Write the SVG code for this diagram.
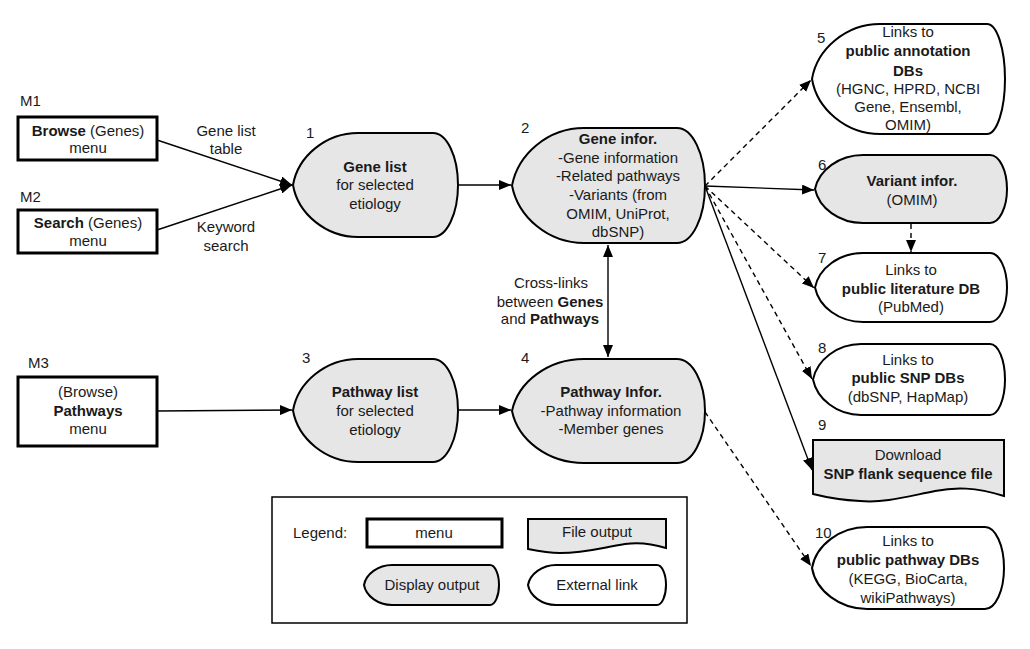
<svg xmlns="http://www.w3.org/2000/svg" width="1030" height="649" viewBox="0 0 1030 649">
<style>
text{font-family:"Liberation Sans",Arial,sans-serif;font-size:15px;fill:#1a1a1a;text-anchor:middle}
.b{font-weight:bold}
.lbl{text-anchor:start}
.menu{fill:#fff;stroke:#000;stroke-width:3}
.disp{fill:#e6e6e6;stroke:#000;stroke-width:2}
.ext{fill:#fff;stroke:#000;stroke-width:2}
.c{fill:none;stroke:#000;stroke-width:1.4}
.d{stroke-dasharray:5,4}
</style>
<defs>
<marker id="ah" viewBox="0 0 12 10" refX="12" refY="5" markerWidth="12" markerHeight="10" markerUnits="userSpaceOnUse" orient="auto-start-reverse">
<path d="M0,0 L12,5 L0,10 Z" fill="#000"/>
</marker>
</defs>
<rect width="1030" height="649" fill="#fff"/>

<g id="connectors">
<line class="c" x1="157" y1="140" x2="292" y2="185" marker-end="url(#ah)"/>
<line class="c" x1="157" y1="230" x2="292" y2="185" marker-end="url(#ah)"/>
<line class="c" x1="157" y1="411" x2="292" y2="410" marker-end="url(#ah)"/>
<line class="c" x1="458" y1="185" x2="511" y2="185" marker-end="url(#ah)"/>
<line class="c" x1="458" y1="410" x2="511" y2="410" marker-end="url(#ah)"/>
<line class="c" x1="608" y1="245" x2="608" y2="357" marker-start="url(#ah)" marker-end="url(#ah)"/>
<line class="c d" x1="705" y1="186" x2="811" y2="80" marker-end="url(#ah)"/>
<line class="c" x1="705" y1="186" x2="814" y2="190" marker-end="url(#ah)"/>
<line class="c d" x1="705" y1="186" x2="814" y2="288" marker-end="url(#ah)"/>
<line class="c d" x1="705" y1="186" x2="812" y2="379" marker-end="url(#ah)"/>
<line class="c" x1="705" y1="186" x2="812" y2="470" marker-end="url(#ah)"/>
<line class="c d" x1="705" y1="412" x2="811" y2="566" marker-end="url(#ah)"/>
<line class="c d" x1="911" y1="224" x2="911" y2="252" marker-end="url(#ah)"/>
<text x="226" y="136">Gene list</text>
<text x="226" y="154">table</text>
<text x="226" y="232">Keyword</text>
<text x="226" y="251">search</text>
<text x="551" y="288">Cross-links</text>
<text x="550" y="307">between <tspan class="b">Genes</tspan></text>
<text x="550" y="324">and <tspan class="b">Pathways</tspan></text>
</g>

<g id="m1">
<text class="lbl" x="20" y="106">M1</text>
<rect class="menu" x="18" y="117" width="139" height="43"/>
<text x="88" y="136"><tspan class="b">Browse</tspan> (Genes)</text>
<text x="88" y="153">menu</text>
</g>
<g id="m2">
<text class="lbl" x="20" y="202">M2</text>
<rect class="menu" x="18" y="210" width="139" height="43"/>
<text x="88" y="228"><tspan class="b">Search</tspan> (Genes)</text>
<text x="88" y="246">menu</text>
</g>
<g id="m3">
<text class="lbl" x="28" y="368">M3</text>
<rect class="menu" x="18" y="377" width="139" height="69"/>
<text x="88" y="397">(Browse)</text>
<text class="b" x="88" y="416">Pathways</text>
<text x="88" y="434">menu</text>
</g>

<g id="n1">
<text class="lbl" x="306" y="138">1</text>
<path class="disp" d="M293,185 C298,156 326,133 358,133 H433 A25,52 0 0 1 433,237 H358 C326,237 298,214 293,185 Z"/>
<text class="b" x="375" y="172">Gene list</text>
<text x="375" y="190">for selected</text>
<text x="375" y="209">etiology</text>
</g>
<g id="n2">
<text class="lbl" x="521" y="133">2</text>
<path class="disp" d="M512,185.5 C518,154 548,128 584,128 H677 A28,57.5 0 0 1 677,243 H584 C548,243 518,217 512,185.5 Z"/>
<text class="b" x="618" y="144">Gene infor.</text>
<text x="618" y="163">-Gene information</text>
<text x="618" y="181">-Related pathways</text>
<text x="618" y="200">-Variants (from</text>
<text x="618" y="219">OMIM, UniProt,</text>
<text x="618" y="237">dbSNP)</text>
</g>
<g id="n3">
<text class="lbl" x="302" y="363">3</text>
<path class="disp" d="M293,410.5 C298,382 326,359 358,359 H433 A25,51.5 0 0 1 433,462 H358 C326,462 298,439 293,410.5 Z"/>
<text class="b" x="375" y="397">Pathway list</text>
<text x="375" y="416">for selected</text>
<text x="375" y="435">etiology</text>
</g>
<g id="n4">
<text class="lbl" x="521" y="363">4</text>
<path class="disp" d="M512,411 C518,382 548,359 584,359 H677 A28,52 0 0 1 677,463 H584 C548,463 518,440 512,411 Z"/>
<text class="b" x="611" y="397">Pathway Infor.</text>
<text x="611" y="416">-Pathway information</text>
<text x="611" y="434">-Member genes</text>
</g>
<g id="n5">
<text class="lbl" x="817" y="43">5</text>
<path class="ext" d="M812,79 C817,49 846,24 880,24 H987 A18,55 0 0 1 987,134 H880 C846,134 817,109 812,79 Z"/>
<text x="908" y="37">Links to</text>
<text class="b" x="908" y="56">public annotation</text>
<text class="b" x="908" y="76">DBs</text>
<text x="908" y="94">(HGNC, HPRD, NCBI</text>
<text x="908" y="112">Gene, Ensembl,</text>
<text x="908" y="130">OMIM)</text>
</g>
<g id="n6">
<text class="lbl" x="818" y="170">6</text>
<path class="disp" d="M815,189 C819,170 839,155 863,155 H990 A17,34 0 0 1 990,223 H863 C839,223 819,208 815,189 Z"/>
<text class="b" x="912" y="186">Variant infor.</text>
<text x="912" y="205">(OMIM)</text>
</g>
<g id="n7">
<text class="lbl" x="818" y="263">7</text>
<path class="ext" d="M815,287.5 C819,268 839,253 863,253 H990 A17,34.5 0 0 1 990,322 H863 C839,322 819,307 815,287.5 Z"/>
<text x="911" y="275">Links to</text>
<text class="b" x="911" y="294">public literature DB</text>
<text x="911" y="312">(PubMed)</text>
</g>
<g id="n8">
<text class="lbl" x="818" y="353">8</text>
<path class="ext" d="M813,379.5 C817,360 837,344 861,344 H990 A15,35.5 0 0 1 990,415 H861 C837,415 817,399 813,379.5 Z"/>
<text x="908" y="365">Links to</text>
<text class="b" x="908" y="383">public SNP DBs</text>
<text x="908" y="402">(dbSNP, HapMap)</text>
</g>
<g id="n9">
<text class="lbl" x="818" y="430">9</text>
<path class="disp" d="M813,440 H1004 V496 C975,487 955,487 935,491 C905,497 885,503 860,501 C840,500 825,497 813,494 Z"/>
<text x="908" y="460">Download</text>
<text class="b" x="908" y="479">SNP flank sequence file</text>
</g>
<g id="n10">
<text class="lbl" x="815" y="538">10</text>
<path class="ext" d="M812,568 C816,545 840,527 867,527 H985 A19,41 0 0 1 985,609 H867 C840,609 816,591 812,568 Z"/>
<text x="908" y="546">Links to</text>
<text class="b" x="908" y="565">public pathway DBs</text>
<text x="908" y="584">(KEGG, BioCarta,</text>
<text x="908" y="603">wikiPathways)</text>
</g>

<g id="legend">
<rect x="272" y="497" width="415" height="126" fill="#fff" stroke="#000" stroke-width="1.5"/>
<text class="lbl" x="293" y="538">Legend:</text>
<rect class="menu" x="367" y="519" width="135" height="28"/>
<text x="434" y="538">menu</text>
<path class="disp" d="M528,519 H666 V548 C650,543 638,542 625,544 C600,548 585,553 560,553 C548,553 538,551 528,549 Z"/>
<text x="597" y="537">File output</text>
<path class="disp" d="M364,585 C366,574 378,565 392,565 H490 A9,20 0 0 1 490,605 H392 C378,605 366,596 364,585 Z"/>
<text x="432" y="590">Display output</text>
<path class="ext" d="M528,585 C530,574 542,565 556,565 H657 A9,20 0 0 1 657,605 H556 C542,605 530,596 528,585 Z"/>
<text x="597" y="590">External link</text>
</g>
</svg>
